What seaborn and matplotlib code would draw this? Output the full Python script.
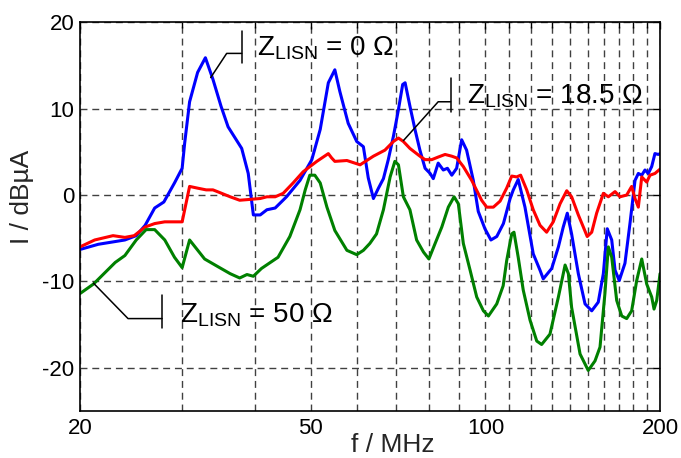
import matplotlib
matplotlib.use("Agg")
import matplotlib.pyplot as plt
import numpy as np
import pandas as pd
import seaborn as sns
from matplotlib.ticker import FixedLocator, FixedFormatter, NullFormatter

# ---- measured conducted current spectra ----------------------------------
# Z_LISN = 0 Ohm
blue_f = [20.0, 21.5, 23.9, 25.0, 25.9, 26.9, 27.9, 29.1, 30.0, 30.3, 30.9, 31.9,
          32.9, 33.9, 35.0, 36.0, 38.0, 39.0, 39.8, 40.9, 42.0, 43.4, 45.4, 47.9,
          50.2, 51.9, 53.6, 55.0, 56.1, 58.0, 60.0, 61.6, 62.8, 64.1, 65.4, 66.7,
          68.0, 69.4, 70.8, 72.0, 72.7, 74.1, 75.6, 77.1, 78.7, 80.3, 81.3, 82.9,
          84.6, 86.0, 87.5, 89.2, 91.0, 92.8, 95.3, 97.2, 99.8, 102.2, 104.6, 107.4,
          110.3, 111.7, 113.9, 117.0, 120.9, 124.2, 125.8, 130.1, 133.6, 136.2, 138.4,
          140.8, 144.6, 148.5, 152.5, 156.5, 159.7, 162.2, 165.1, 167.3, 170.1, 174.0,
          177.5, 181.1, 183.5, 186.0, 188.4, 190.9, 193.5, 196.0, 198.7, 200.0]
blue_I = [-6.3, -5.7, -5.2, -4.7, -3.5, -1.5, -0.8, 1.4, 3.1, 6.0, 10.8, 14.2,
          15.9, 13.4, 10.3, 7.9, 5.4, 2.5, -2.3, -2.3, -1.7, -1.5, -0.2, 1.7,
          4.1, 7.6, 13.0, 14.5, 12.0, 8.3, 6.2, 5.6, 2.0, -0.4, 0.8, 1.9,
          4.1, 6.8, 9.9, 12.8, 13.0, 10.3, 7.6, 5.2, 3.1, 2.5, 1.9, 3.7,
          2.9, 3.1, 2.3, 3.1, 6.4, 5.2, 1.7, -1.9, -3.9, -5.2, -4.8, -3.3,
          -0.4, 0.6, 1.8, -1.4, -6.8, -8.7, -9.7, -8.5, -6.0, -3.7, -2.1,
          -4.5, -9.1, -12.6, -13.4, -12.4, -9.1, -3.9, -5.2, -8.7, -9.9, -7.9,
          -3.3, 1.7, 2.5, 2.3, 2.9, 2.5, 3.3, 4.8, 4.7, 4.8]

# Z_LISN = 18.5 Ohm
red_f = [20.0, 21.2, 22.8, 23.9, 24.8, 25.9, 26.9, 28.0, 30.0, 30.9, 31.9, 33.0,
         33.9, 34.8, 36.3, 37.7, 39.3, 40.9, 42.0, 43.4, 44.8, 46.6, 48.5, 51.2,
         53.6, 54.3, 55.0, 57.7, 60.8, 64.1, 67.1, 69.4, 70.8, 72.2, 74.1, 77.1,
         78.7, 80.8, 82.9, 85.2, 87.5, 89.2, 91.6, 94.7, 98.5, 100.5, 103.2, 106.0,
         108.8, 111.0, 113.2, 115.0, 117.8, 120.9, 124.2, 127.5, 130.9, 134.5, 138.1,
         140.8, 144.6, 147.5, 149.8, 152.5, 155.5, 159.7, 162.9, 167.3, 170.6, 175.2,
         178.7, 181.1, 183.5, 186.0, 189.7, 192.2, 196.0, 200.0]
red_I = [-6.0, -5.2, -4.7, -4.9, -4.7, -3.7, -3.3, -3.1, -3.1, 1.0, 0.8, 0.6,
         0.6, 0.3, -0.2, -0.6, -0.5, -0.4, -0.2, -0.2, 0.2, 1.4, 2.7, 3.9,
         4.8, 4.3, 3.9, 4.0, 3.5, 4.5, 5.2, 6.2, 6.6, 6.2, 5.4, 4.5,
         4.1, 4.1, 4.4, 4.7, 4.5, 4.3, 3.3, 1.7, -0.6, -1.4, -1.4, -0.7,
         0.8, 2.2, 2.1, 2.3, 0.6, -1.7, -3.5, -4.3, -3.1, -1.0, 0.5,
         -0.2, -2.3, -3.7, -4.8, -4.3, -2.1, 0.2, -0.2, 0.4, -0.2, 0.0,
         1.0, -0.4, -1.4, 2.1, 1.5, 2.3, 2.5, 3.0]

# Z_LISN = 50 Ohm
green_f = [20.0, 21.1, 23.0, 23.9, 25.0, 26.0, 26.9, 28.0, 29.1, 30.0, 30.9, 32.8,
           34.6, 36.3, 37.7, 38.8, 39.8, 41.1, 43.9, 46.0, 47.9, 48.9, 49.8, 50.8,
           51.9, 53.3, 55.0, 57.7, 60.0, 61.6, 63.2, 64.9, 66.7, 68.5, 69.8, 70.8,
           72.2, 74.1, 76.1, 78.2, 79.9, 81.9, 84.1, 86.3, 88.3, 89.8, 91.6, 94.1,
           96.6, 99.2, 101.2, 104.6, 107.3, 108.8, 111.0, 112.0, 113.9, 116.2, 119.4,
           122.6, 125.0, 129.2, 133.6, 137.2, 139.0, 140.8, 145.6, 150.4, 154.5, 157.6,
           160.7, 162.9, 165.1, 168.4, 171.8, 175.2, 178.7, 182.3, 186.0, 189.7, 193.5,
           195.3, 197.4, 200.0]
green_I = [-11.4, -10.3, -7.8, -7.0, -5.2, -4.0, -4.0, -5.2, -7.2, -8.4, -5.2, -7.4,
           -8.3, -9.1, -9.6, -9.2, -9.4, -8.5, -7.2, -4.8, -1.7, 0.6, 2.3, 2.3,
           1.4, -1.4, -4.1, -6.4, -6.9, -6.4, -5.6, -4.5, -1.7, 2.1, 3.9, 3.5,
           -0.2, -1.7, -5.2, -6.6, -7.4, -5.6, -3.7, -1.4, -0.2, -1.0, -5.6, -8.7,
           -11.8, -13.4, -14.0, -12.6, -10.5, -7.6, -4.5, -4.3, -7.2, -11.0, -14.5,
           -16.9, -17.3, -16.1, -11.8, -8.1, -9.1, -13.0, -18.4, -20.3, -19.2, -17.6,
           -11.4, -6.0, -7.2, -12.2, -14.0, -14.3, -13.4, -9.9, -7.4, -10.3, -11.8,
           -13.2, -12.2, -9.1]

series_names = ["0", "18.5", "50"]
series_colors = ["#0000ff", "#ff0000", "#008000"]

x_major_ticks = [20, 50, 100, 200]
x_minor_ticks = [30, 40, 60, 70, 80, 90, 110, 120, 130, 140, 150, 160, 170, 180, 190]
y_ticks = [-20, -10, 0, 10, 20]

# ---- style ----------------------------------------------------------------
sns.set_theme(style="white")
plt.rcParams["font.family"] = ["Liberation Sans", "DejaVu Sans"]
plt.rcParams["mathtext.fontset"] = "custom"
plt.rcParams["mathtext.rm"] = "Liberation Sans"
plt.rcParams["mathtext.it"] = "Liberation Sans:italic"
plt.rcParams["axes.unicode_minus"] = False

df = pd.concat([
    pd.DataFrame({"f": blue_f, "I": blue_I, "Z": series_names[0]}),
    pd.DataFrame({"f": red_f, "I": red_I, "Z": series_names[1]}),
    pd.DataFrame({"f": green_f, "I": green_I, "Z": series_names[2]}),
], ignore_index=True)

fig = plt.figure(figsize=(6.81, 4.58), dpi=100)
ax = fig.add_axes([0.1175, 0.1026, 0.8517, 0.8487])
ax.set_xscale("log")

sns.lineplot(data=df, x="f", y="I", hue="Z", hue_order=series_names,
             palette=dict(zip(series_names, series_colors)),
             sort=False, estimator=None, legend=False, linewidth=2.2, ax=ax)

ax.set_xlim(20, 200)
ax.set_ylim(-25, 20)
ax.xaxis.set_major_locator(FixedLocator(x_major_ticks))
ax.xaxis.set_major_formatter(FixedFormatter([str(t) for t in x_major_ticks]))
ax.xaxis.set_minor_locator(FixedLocator(x_minor_ticks))
ax.xaxis.set_minor_formatter(NullFormatter())
ax.set_yticks(y_ticks)
ax.set_yticklabels([str(t) for t in y_ticks])

grid_kw = dict(color="0.25", linewidth=1.0, linestyle=(0, (5, 3.5)))
ax.grid(True, which="both", axis="x", **grid_kw)
ax.grid(True, which="major", axis="y", **grid_kw)
ax.set_axisbelow(True)

for side in ["left", "right", "top", "bottom"]:
    ax.spines[side].set_visible(True)
    ax.spines[side].set_color("black")
    ax.spines[side].set_linewidth(1.2)

ax.tick_params(which="both", direction="in", top=True, right=True,
               colors="black", width=1.0, labelsize=16)
ax.tick_params(which="major", length=5)
ax.tick_params(which="minor", length=4)
ax.tick_params(axis="x", which="major", pad=5)
ax.tick_params(axis="y", which="major", pad=4)

ax.set_xlabel("f / MHz", fontsize=19)
ax.set_ylabel("I / dBµA", fontsize=19)
ax.xaxis.set_label_coords(0.54, -0.088)
ax.xaxis.label.set_va("center")
ax.yaxis.set_label_coords(-0.10, 0.55)
ax.yaxis.label.set_va("center")


def callout(anchor, elbow, bar_x, bar_span, text_pos, label):
    """Leader line from a curve to a label: slanted stub, flat run, end bar."""
    ax.plot([anchor[0], elbow[0], bar_x], [anchor[1], elbow[1], elbow[1]],
            color="black", linewidth=1.1)
    ax.plot([bar_x, bar_x], bar_span, color="black", linewidth=1.1)
    ax.text(text_pos[0], text_pos[1], label, fontsize=20,
            ha="left", va="baseline", color="black")


callout((33.6, 13.6), (35.8, 16.4), 38.0, (19.0, 15.3), (40.4, 16.1),
        r"Z$_{\mathregular{LISN}}$ = 0 Ω")
callout((72.2, 6.3), (82.9, 10.8), 87.1, (13.6, 9.6), (93.1, 10.6),
        r"Z$_{\mathregular{LISN}}$ = 18.5 Ω")
callout((21.1, -10.2), (24.2, -14.3), 27.7, (-11.6, -15.4), (29.8, -14.7),
        r"Z$_{\mathregular{LISN}}$ = 50 Ω")

fig.savefig("out.png", dpi=100)
